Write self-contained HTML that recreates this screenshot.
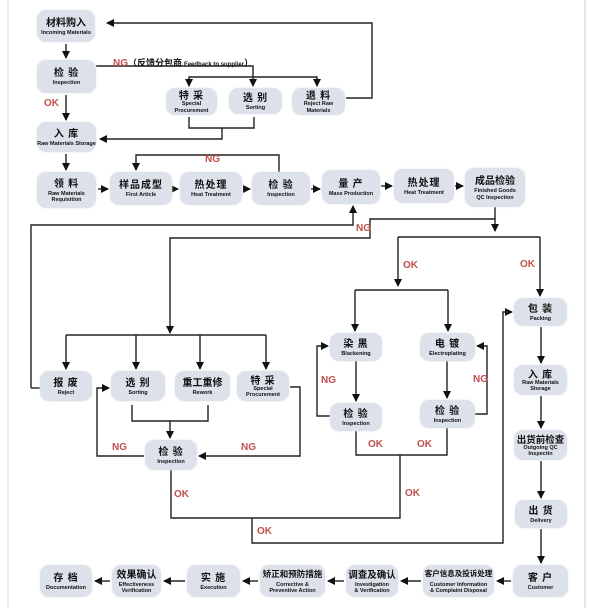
<!DOCTYPE html>
<html><head><meta charset="utf-8"><style>
body{margin:0;width:600px;height:608px;background:#fff;position:relative;overflow:hidden;font-family:"Liberation Sans","Noto Sans CJK SC",sans-serif}
.n{position:absolute;background:#dde1ea;border-radius:9px;display:flex;flex-direction:column;align-items:center;justify-content:center;text-align:center;color:#111;box-shadow:0 0 2px #e4e7ee;overflow:hidden}
.n b{font-size:10px;letter-spacing:1px;line-height:12px;font-family:"Noto Sans CJK SC",sans-serif;font-weight:bold;white-space:nowrap}
.n i{font-style:normal;font-size:5.5px;line-height:6.5px;font-weight:bold;margin-top:2px;white-space:nowrap}
.l{position:absolute;color:#c0504d;font-weight:bold;font-size:10px;white-space:nowrap}
svg{position:absolute;left:0;top:0}
</style></head><body>
<div style="position:absolute;left:7px;top:0;width:2px;height:608px;background:#eee"></div>
<div style="position:absolute;left:584px;top:0;width:2px;height:608px;background:#e8e8e8"></div>
<svg width="600" height="608" viewBox="0 0 600 608">
<defs><marker id="a" markerWidth="8" markerHeight="8" refX="7" refY="4" orient="auto" markerUnits="userSpaceOnUse"><path d="M0,0 L8,4 L0,8 z" fill="#111"/></marker></defs>
<g fill="none" stroke="#222" stroke-width="1.4">
<path d="M66,44V58" marker-end="url(#a)"/>
<path d="M66,95V120" marker-end="url(#a)"/>
<path d="M66,154V170" marker-end="url(#a)"/>
<path d="M98,189H108" marker-end="url(#a)"/>
<path d="M173,189H178" marker-end="url(#a)"/>
<path d="M243,189H250" marker-end="url(#a)"/>
<path d="M311,189H320" marker-end="url(#a)"/>
<path d="M381,186H392" marker-end="url(#a)"/>
<path d="M455,186H463" marker-end="url(#a)"/>
<path d="M96,66H253V86" marker-end="url(#a)"/>
<path d="M189,86V77H317V86" />
<path d="M189,78V86" marker-end="url(#a)"/>
<path d="M317,78V86" marker-end="url(#a)"/>
<path d="M346,98H372V23H107" marker-end="url(#a)"/>
<path d="M189,117V128H254V117M222,128V139H100" marker-end="url(#a)"/>
<path d="M279,172V155H136V170" marker-end="url(#a)"/>
<path d="M495,207V231" marker-end="url(#a)"/>
<path d="M495,219H370V238H170V333" marker-end="url(#a)"/>
<path d="M31,388V225H353V206" marker-end="url(#a)"/>
<path d="M31,388H40"/>
<path d="M66,335H266"/>
<path d="M66,335V369" marker-end="url(#a)"/>
<path d="M136,335V369" marker-end="url(#a)"/>
<path d="M200,335V369" marker-end="url(#a)"/>
<path d="M266,335V369" marker-end="url(#a)"/>
<path d="M132,405V421H208V405M170,421V438" marker-end="url(#a)"/>
<path d="M144,456H97V388H109" marker-end="url(#a)"/>
<path d="M290,387H300V456H199" marker-end="url(#a)"/>
<path d="M171,470V518H400V455"/>
<path d="M252,518V543H503V312H512" marker-end="url(#a)"/>
<path d="M398,237H540"/>
<path d="M398,237V286" marker-end="url(#a)"/>
<path d="M540,237V296" marker-end="url(#a)"/>
<path d="M355,290H448"/>
<path d="M355,290V331" marker-end="url(#a)"/>
<path d="M448,290V331" marker-end="url(#a)"/>
<path d="M356,361V401" marker-end="url(#a)"/>
<path d="M447,361V398" marker-end="url(#a)"/>
<path d="M330,416H317V346H328" marker-end="url(#a)"/>
<path d="M475,414H487V346H477" marker-end="url(#a)"/>
<path d="M356,431V455H447V428"/>
<path d="M541,327V363" marker-end="url(#a)"/>
<path d="M541,396V428" marker-end="url(#a)"/>
<path d="M541,461V498" marker-end="url(#a)"/>
<path d="M541,529V563" marker-end="url(#a)"/>
<path d="M511,581H497" marker-end="url(#a)"/>
<path d="M421,581H401" marker-end="url(#a)"/>
<path d="M344,581H328" marker-end="url(#a)"/>
<path d="M258,581H243" marker-end="url(#a)"/>
<path d="M185,581H164" marker-end="url(#a)"/>
<path d="M110,581H95" marker-end="url(#a)"/>
</g></svg>

<div class="l" style="left:113px;top:56px">NG<span style="color:#111;font-size:9px;font-family:'Noto Sans CJK SC',sans-serif">（反馈分包商 <span style="font-size:6px;font-family:'Liberation Sans',sans-serif">Feedback to supplier</span>）</span></div>
<div class="l" style="left:44px;top:98px">OK</div>
<div class="l" style="left:205px;top:154px">NG</div>
<div class="l" style="left:356px;top:223px">NG</div>
<div class="l" style="left:403px;top:260px">OK</div>
<div class="l" style="left:520px;top:259px">OK</div>
<div class="l" style="left:321px;top:375px">NG</div>
<div class="l" style="left:473px;top:374px">NG</div>
<div class="l" style="left:112px;top:442px">NG</div>
<div class="l" style="left:241px;top:442px">NG</div>
<div class="l" style="left:368px;top:439px">OK</div>
<div class="l" style="left:417px;top:439px">OK</div>
<div class="l" style="left:174px;top:489px">OK</div>
<div class="l" style="left:405px;top:488px">OK</div>
<div class="l" style="left:257px;top:526px">OK</div>

<div class="n" style="left:37px;top:10px;width:58px;height:32px"><b style="letter-spacing:0">材料购入</b><i>Incoming Materials</i></div>
<div class="n" style="left:37px;top:60px;width:59px;height:33px"><b>检 验</b><i>Inspection</i></div>
<div class="n" style="left:37px;top:122px;width:59px;height:30px"><b>入 库</b><i>Raw Materials Storage</i></div>
<div class="n" style="left:37px;top:172px;width:59px;height:36px"><b>领 料</b><i>Raw Materials<br>Requisition</i></div>
<div class="n" style="left:110px;top:172px;width:62px;height:33px"><b>样品成型</b><i>First Article</i></div>
<div class="n" style="left:180px;top:172px;width:62px;height:33px"><b>热处理</b><i>Heat Treatment</i></div>
<div class="n" style="left:252px;top:172px;width:58px;height:33px"><b>检 验</b><i>Inspection</i></div>
<div class="n" style="left:322px;top:170px;width:58px;height:34px"><b>量 产</b><i>Mass Production</i></div>
<div class="n" style="left:394px;top:169px;width:60px;height:34px"><b>热处理</b><i>Heat Treatment</i></div>
<div class="n" style="left:465px;top:168px;width:60px;height:39px"><b style="letter-spacing:0">成品检验</b><i>Finished Goods<br>QC Inspection</i></div>
<div class="n" style="left:166px;top:88px;width:51px;height:27px"><b>特 采</b><i style="margin-top:0">Special<br>Procurement</i></div>
<div class="n" style="left:229px;top:88px;width:53px;height:26px"><b>选 别</b><i>Sorting</i></div>
<div class="n" style="left:292px;top:88px;width:53px;height:27px"><b>退 料</b><i style="margin-top:0">Reject Raw<br>Materials</i></div>
<div class="n" style="left:40px;top:371px;width:52px;height:30px"><b>报 废</b><i>Reject</i></div>
<div class="n" style="left:111px;top:371px;width:54px;height:30px"><b>选 别</b><i>Sorting</i></div>
<div class="n" style="left:175px;top:371px;width:55px;height:30px"><b style="letter-spacing:0">重工重修</b><i>Rework</i></div>
<div class="n" style="left:237px;top:371px;width:52px;height:30px"><b>特 采</b><i style="margin-top:0">Special<br>Procurement</i></div>
<div class="n" style="left:145px;top:440px;width:52px;height:30px"><b>检 验</b><i>Inspection</i></div>
<div class="n" style="left:330px;top:333px;width:52px;height:28px"><b>染 黑</b><i>Blackening</i></div>
<div class="n" style="left:420px;top:333px;width:55px;height:28px"><b>电 镀</b><i>Electroplating</i></div>
<div class="n" style="left:330px;top:403px;width:52px;height:28px"><b>检 验</b><i>Inspection</i></div>
<div class="n" style="left:420px;top:400px;width:55px;height:28px"><b>检 验</b><i>Inspection</i></div>
<div class="n" style="left:514px;top:298px;width:53px;height:28px"><b>包 装</b><i>Packing</i></div>
<div class="n" style="left:514px;top:365px;width:53px;height:30px"><b>入 库</b><i style="margin-top:0">Raw Materials<br>Storage</i></div>
<div class="n" style="left:514px;top:430px;width:53px;height:30px"><b style="letter-spacing:0;font-size:9.5px">出货前检查</b><i style="margin-top:0">Outgoing QC<br>Inspectin</i></div>
<div class="n" style="left:515px;top:500px;width:52px;height:28px"><b>出 货</b><i>Delivery</i></div>
<div class="n" style="left:513px;top:565px;width:55px;height:32px"><b>客 户</b><i>Customer</i></div>
<div class="n" style="left:423px;top:565px;width:71px;height:32px"><b style="font-size:7.5px;letter-spacing:0">客户信息及投诉处理</b><i>Customer Information<br>&amp; Complaint Disposal</i></div>
<div class="n" style="left:346px;top:565px;width:52px;height:32px"><b style="letter-spacing:0;font-size:9.5px">调查及确认</b><i>Investigation<br>&amp; Verification</i></div>
<div class="n" style="left:260px;top:565px;width:65px;height:32px"><b style="font-size:8.5px;letter-spacing:0">矫正和预防措施</b><i>Corrective &amp;<br>Preventive Action</i></div>
<div class="n" style="left:187px;top:565px;width:53px;height:32px"><b>实 施</b><i>Execution</i></div>
<div class="n" style="left:112px;top:565px;width:49px;height:32px"><b style="letter-spacing:0">效果确认</b><i>Effectiveness<br>Verification</i></div>
<div class="n" style="left:40px;top:565px;width:52px;height:32px"><b>存 档</b><i>Documentation</i></div>
</body></html>
